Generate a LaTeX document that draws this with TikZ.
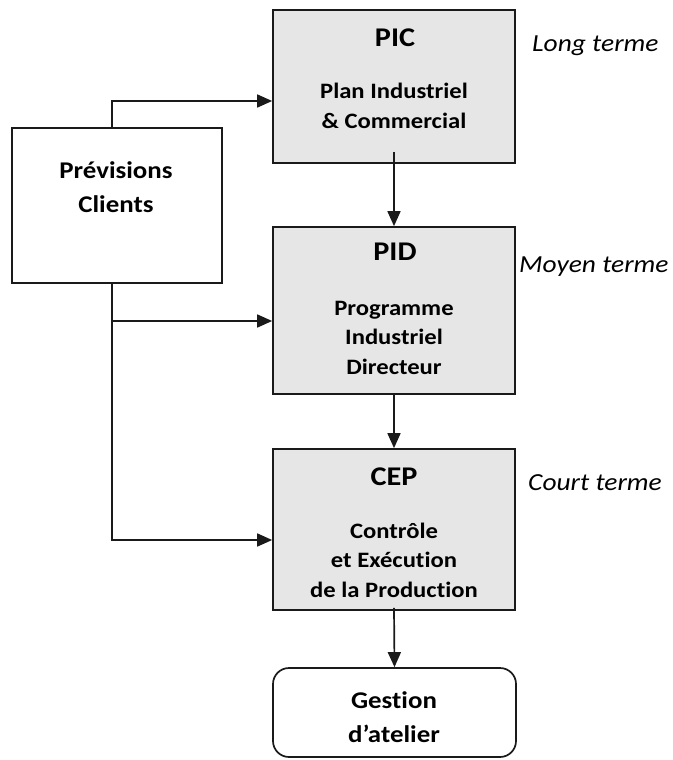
\documentclass[tikz,border=0pt]{standalone}
\usepackage{fontspec}
\setmainfont[Ligatures=NoCommon, FakeStretch=1.12]{Carlito}
\usetikzlibrary{arrows.meta}
\definecolor{boxgray}{HTML}{E6E6E6}
\definecolor{edge}{HTML}{1A1A1A}
\tikzset{
  stage/.style={draw=edge, line width=1.7pt, fill=boxgray, minimum width=242pt, inner sep=0pt},
  plainbox/.style={draw=edge, line width=1.7pt, fill=white, inner sep=0pt},
  % multi-line labels are placed by the baseline of their last line
  lbl/.style={font=\bfseries\fontsize{22}{29.5}\selectfont, align=center, inner sep=0pt, anchor=base},
  biglbl/.style={font=\bfseries\fontsize{24}{34}\selectfont, align=center, inner sep=0pt, anchor=base},
  ttl/.style={font=\bfseries\fontsize{27}{30}\selectfont, inner sep=0pt, anchor=base},
  horizon/.style={font=\itshape\fontsize{24.5}{28}\selectfont, anchor=base west, inner sep=0pt},
  flow/.style={draw=edge, line width=1.7pt, -{Triangle[length=15pt,width=13pt]}}
}
\begin{document}
\begin{tikzpicture}[x=1pt,y=-1pt]
\useasboundingbox (0,0) rectangle (672,760);
% boxes
\node[stage, minimum height=153pt] (pic) at (394,86.5) {};
\node[stage, minimum height=167pt] (pid) at (394,310.5) {};
\node[stage, minimum height=161pt] (cep) at (394,529.5) {};
\node[plainbox, rounded corners=16pt, minimum width=243pt, minimum height=89pt] (atelier) at (394.5,712.5) {};
\node[plainbox, minimum width=210pt, minimum height=155pt] (prev) at (117,205.5) {};
% box texts
\node[ttl] (picT) at (395,47) {PIC};
\node[lbl] (picL) at (394,128) {Plan Industriel\\\& Commercial};
\node[ttl] (pidT) at (395,260) {PID};
\node[lbl] (pidL) at (394,374) {Programme\\Industriel\\Directeur};
\node[ttl] (cepT) at (394,485) {CEP};
\node[lbl] (cepL) at (394,597) {Contrôle\\et Exécution\\de la Production};
\node[biglbl] (atL) at (394,742) {Gestion\\d’atelier};
\node[biglbl] (prevL) at (116,212) {Prévisions\\Clients};
% horizon labels
\node[horizon] (h1) at (532,52) {Long terme};
\node[horizon] (h2) at (519,272) {Moyen terme};
\node[horizon] (h3) at (528,490) {Court terme};
% vertical chain
\draw[flow] ([yshift=12pt]pic.south) -- (pid.north);
\draw[flow] (pid.south) -- (cep.north);
\draw[flow] ([yshift=3pt]cep.south) -- (atelier.north);
% forecast feeds
\coordinate (j1) at (112,101);
\coordinate (j2) at (112,321);
\coordinate (j3) at (112,540);
\draw[flow] (prev.north -| j1) -- (j1) -- (j1 -| pic.west);
\draw[flow] (prev.south -| j2) -- (j2) -- (j2 -| pid.west);
\draw[flow] (j2) -- (j3) -- (j3 -| cep.west);
\end{tikzpicture}
\end{document}
